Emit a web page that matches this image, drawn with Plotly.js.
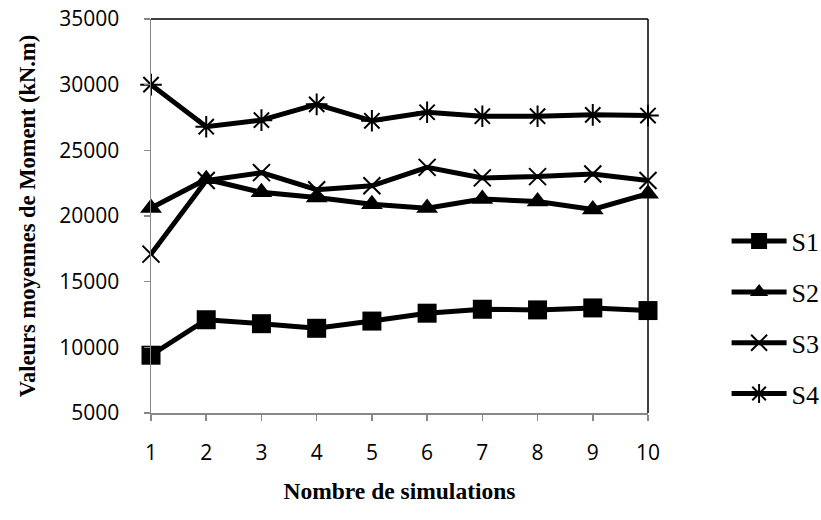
<!DOCTYPE html>
<html>
<head>
<meta charset="utf-8">
<script src="https://cdn.plot.ly/plotly-3.0.1.min.js"></script>
<style>html,body{margin:0;padding:0;background:#fff;}#chart{width:821px;height:520px;}</style>
</head>
<body>
<div id="chart"></div>
<script>
const simulations = [1, 2, 3, 4, 5, 6, 7, 8, 9, 10];
const seriesNames = ["S1", "S2", "S3", "S4"];
const s1 = [9400, 12100, 11800, 11450, 12000, 12600, 12900, 12850, 13000, 12800];
const s2 = [20600, 22800, 21800, 21400, 20900, 20600, 21300, 21100, 20500, 21700];
const s3 = [17100, 22700, 23300, 22000, 22300, 23700, 22900, 23000, 23200, 22700];
const s4 = [30000, 26800, 27300, 28500, 27250, 27900, 27600, 27600, 27700, 27650];
const yTicks = [5000, 10000, 15000, 20000, 25000, 30000, 35000];
const xTitle = "Nombre de simulations";
const yTitle = "Valeurs moyennes de Moment (kN.m)";

const seriesValues = [s1, s2, s3, s4];
const markerStyles = [
  {symbol: "square", size: 19, color: "#000"},
  {symbol: "triangle-up", size: 19, color: "#000"},
  {symbol: "x-thin-open", size: 17, color: "#000", line: {color: "#000", width: 2}},
  {symbol: "asterisk-open", size: 18, color: "#000", line: {color: "#000", width: 2}}
];

const traces = seriesValues.map((vals, i) => ({
  type: "scatter",
  mode: "lines+markers",
  name: seriesNames[i],
  legendgroup: seriesNames[i],
  x: simulations,
  y: vals,
  line: {color: "#000", width: 5},
  marker: markerStyles[i],
  cliponaxis: false
}));

const tickFont = {family: "Open Sans, sans-serif", size: 21, color: "#000"};
const serif = "Liberation Serif, Times New Roman, serif";

const layout = {
  width: 821,
  height: 520,
  margin: {l: 151, r: 173, t: 19, b: 107},
  paper_bgcolor: "#fff",
  plot_bgcolor: "#fff",
  font: {family: "Open Sans, sans-serif", color: "#000"},
  xaxis: {
    range: [1, 10],
    tickvals: simulations,
    ticks: "outside",
    ticklen: 6,
    tickwidth: 1.5,
    tickcolor: "#888",
    showline: true,
    linecolor: "#888",
    linewidth: 1.5,
    showgrid: false,
    zeroline: false,
    ticklabelstandoff: 14,
    tickfont: tickFont,
    title: {text: xTitle, font: {family: serif, size: 23.5, color: "#000", weight: "bold"}, standoff: 18}
  },
  yaxis: {
    range: [5000, 35000],
    tickvals: yTicks,
    ticktext: yTicks.map(String),
    ticks: "outside",
    ticklen: 6,
    tickwidth: 1.5,
    tickcolor: "#888",
    showline: true,
    linecolor: "#888",
    linewidth: 1.5,
    showgrid: false,
    zeroline: false,
    ticklabelstandoff: 20,
    tickfont: tickFont,
    title: {text: yTitle, font: {family: serif, size: 22.5, color: "#000", weight: "bold"}, standoff: 17}
  },
  showlegend: true,
  legend: {
    xref: "container",
    yref: "container",
    x: 0.885,
    xanchor: "left",
    y: 0.389,
    yanchor: "middle",
    traceorder: "grouped",
    tracegroupgap: 14,
    itemwidth: 55,
    font: {family: serif, size: 26, color: "#000"},
    bgcolor: "rgba(0,0,0,0)"
  },
  shapes: [
    {type: "line", xref: "paper", yref: "paper", x0: 0, x1: 1, y0: 1, y1: 1, line: {color: "#000", width: 1.5}},
    {type: "line", xref: "paper", yref: "paper", x0: 1, x1: 1, y0: 0, y1: 1, line: {color: "#000", width: 1.5}}
  ]
};

Plotly.newPlot("chart", traces, layout, {displayModeBar: false, staticPlot: true});
</script>
</body>
</html>
